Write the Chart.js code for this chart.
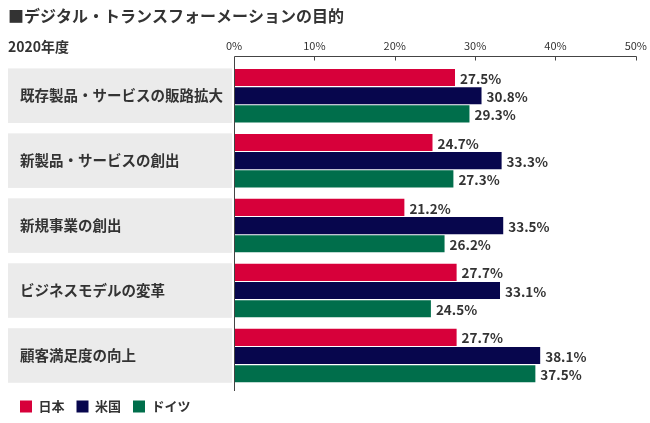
<!DOCTYPE html>
<html lang="ja">
<head>
<meta charset="utf-8">
<script src="https://cdn.jsdelivr.net/npm/chart.js@4"></script>
<style>
  body { margin: 0; background: #fff; }
</style>
</head>
<body>
<canvas id="dxChart" width="650" height="423"></canvas>
<script>
// データ（2020年度）
const categories = ['既存製品・サービスの販路拡大', '新製品・サービスの創出', '新規事業の創出', 'ビジネスモデルの変革', '顧客満足度の向上'];
const japanValues = [27.5, 24.7, 21.2, 27.7, 27.7];
const usValues = [30.8, 33.3, 33.5, 33.1, 38.1];
const germanyValues = [29.3, 27.3, 26.2, 24.5, 37.5];
const seriesNames = ['日本', '米国', 'ドイツ'];
const seriesColors = ['#d7003a', '#07064d', '#006e4b'];
const xTicks = [0, 10, 20, 30, 40, 50];
const chartTitle = '■デジタル・トランスフォーメーションの目的';
const periodLabel = '2020年度';

const FONT = "'Noto Sans CJK JP', 'Noto Sans', sans-serif";
const TEXT = '#333333';
const CAT_PCT = 0.84;

Chart.defaults.font.family = FONT;
Chart.defaults.color = TEXT;

// 灰色の帯・項目名・数値ラベル・軸線を描く
const decorPlugin = {
  id: 'decor',
  beforeDraw(chart) {
    const { ctx, chartArea, scales: { y } } = chart;
    const step = y.getPixelForValue(1) - y.getPixelForValue(0);
    const half = step * CAT_PCT / 2;
    ctx.save();
    categories.forEach((name, i) => {
      const cy = y.getPixelForValue(i);
      ctx.fillStyle = '#ebebeb';
      ctx.fillRect(y.left, cy - half, chartArea.left - 2 - y.left, half * 2);
      ctx.fillStyle = TEXT;
      ctx.font = `bold 14.5px ${FONT}`;
      ctx.textAlign = 'left';
      ctx.textBaseline = 'middle';
      ctx.fillText(name, y.left + 12, cy);
    });
    // 年度ラベル
    ctx.font = `bold 14px ${FONT}`;
    ctx.fillText(periodLabel, y.left, chartArea.top - 17);
    ctx.restore();
  },
  afterDatasetsDraw(chart) {
    const { ctx, chartArea, scales: { x } } = chart;
    ctx.save();
    ctx.font = `bold 13.5px ${FONT}`;
    ctx.fillStyle = TEXT;
    ctx.textAlign = 'left';
    ctx.textBaseline = 'middle';
    chart.data.datasets.forEach((ds, di) => {
      chart.getDatasetMeta(di).data.forEach((bar, i) => {
        ctx.fillText(ds.data[i].toFixed(1) + '%', bar.x + 5, bar.y + 1);
      });
    });

    // 上部の軸線と目盛り
    const y0 = Math.round(chartArea.top - 7) + 0.5;
    const x0 = Math.round(x.getPixelForValue(0)) + 0.5;
    ctx.strokeStyle = '#444';
    ctx.lineWidth = 1;
    ctx.beginPath();
    ctx.moveTo(x0, y0);
    ctx.lineTo(Math.round(x.getPixelForValue(xTicks[xTicks.length - 1])) + 0.5, y0);
    xTicks.slice(1).forEach(v => {
      const px = Math.round(x.getPixelForValue(v)) + 0.5;
      ctx.moveTo(px, y0);
      ctx.lineTo(px, y0 + 4);
    });
    ctx.moveTo(x0, y0);
    ctx.lineTo(x0, chartArea.bottom + 3);
    ctx.stroke();
    ctx.restore();
  }
};

new Chart(document.getElementById('dxChart'), {
  type: 'bar',
  data: {
    labels: categories,
    datasets: [japanValues, usValues, germanyValues].map((vals, i) => ({
      label: seriesNames[i],
      data: vals,
      backgroundColor: seriesColors[i],
      borderWidth: 0,
      barPercentage: 0.94,
      categoryPercentage: CAT_PCT
    }))
  },
  options: {
    indexAxis: 'y',
    responsive: false,
    animation: false,
    layout: { padding: { left: 8, right: 7, top: 0, bottom: 0 } },
    plugins: {
      title: {
        display: true,
        text: chartTitle,
        align: 'start',
        color: TEXT,
        font: { size: 16, weight: 'bold' },
        padding: { top: 6, bottom: 0 }
      },
      legend: {
        position: 'bottom',
        align: 'start',
        labels: {
          boxWidth: 12,
          boxHeight: 12,
          padding: 12,
          color: TEXT,
          font: { size: 13, weight: 'bold' }
        }
      },
      tooltip: { enabled: false }
    },
    scales: {
      x: {
        position: 'top',
        min: 0,
        max: 50,
        grid: { display: false },
        border: { display: false },
        afterBuildTicks(scale) { scale.ticks = xTicks.map(v => ({ value: v })); },
        afterFit(scale) { scale.height = 38; },
        ticks: {
          callback: v => v + '%',
          color: TEXT,
          font: { size: 11 },
          padding: 3,
          maxRotation: 0
        }
      },
      y: {
        grid: { display: false },
        border: { display: false },
        ticks: { display: false },
        afterFit(scale) { scale.width = 226; }
      }
    }
  },
  plugins: [decorPlugin]
});
</script>
</body>
</html>
